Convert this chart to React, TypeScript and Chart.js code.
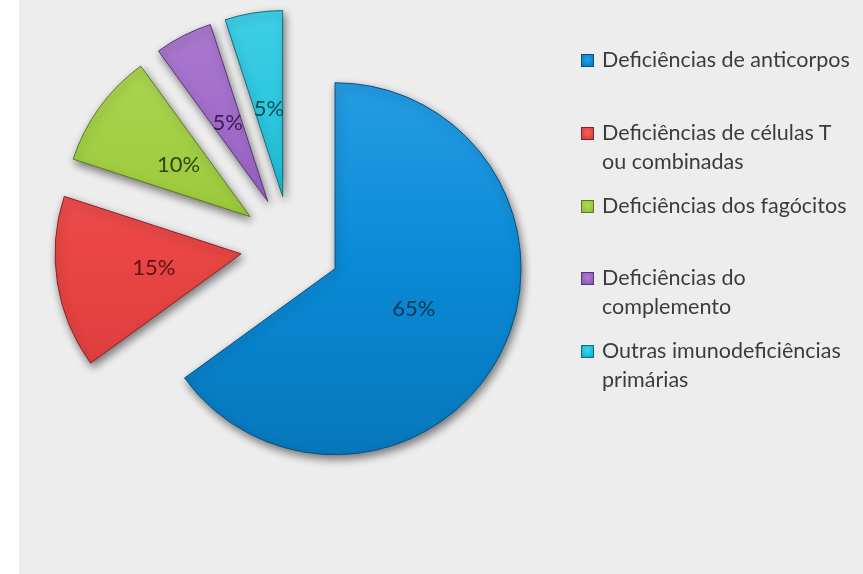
import React, { useEffect, useRef } from "react";
import { Chart, registerables, ArcElement } from "chart.js";

Chart.register(...registerables);

const categories: string[][] = [
  ["Deficiências de anticorpos"],
  ["Deficiências de células T", "ou combinadas"],
  ["Deficiências dos fagócitos"],
  ["Deficiências do", "complemento"],
  ["Outras imunodeficiências", "primárias"],
];
const values = [65, 15, 10, 5, 5];
const sliceColors = ["#0a8ad6", "#e94645", "#9cca3c", "#9a63c4", "#1ec0d8"];
const sliceLight = ["#2aa0e6", "#f06462", "#b0d95a", "#ae7fd2", "#45d3e8"];
const sliceDark = ["#0674b8", "#d43a39", "#88b52e", "#8553ad", "#14a5bd"];
const borderColors = ["#0a4f7c", "#8a2322", "#5b7a20", "#5a3578", "#0f6e7e"];
const labelColors = ["#0c3656", "#5e1212", "#2e4510", "#3b1a58", "#0c4d58"];

const EXPLODE = 50;
const FONT = "Lato, 'Open Sans', sans-serif";

export default function App() {
  const ref = useRef<HTMLCanvasElement | null>(null);

  useEffect(() => {
    if (!ref.current) return;

    const explodePlugin = {
      id: "explode",
      afterDatasetUpdate(chart: any) {
        const meta = chart.getDatasetMeta(0);
        meta.data.forEach((el: any) => {
          if (el.__patched) return;
          el.__patched = true;
          el.draw = function (ctx: CanvasRenderingContext2D) {
            const mid = (this.startAngle + this.endAngle) / 2;
            ctx.save();
            ctx.translate(Math.cos(mid) * EXPLODE, Math.sin(mid) * EXPLODE);
            ctx.shadowColor = "rgba(0,0,0,0.5)";
            ctx.shadowBlur = 8;
            ctx.shadowOffsetX = 2;
            ctx.shadowOffsetY = 4;
            ArcElement.prototype.draw.call(this, ctx);
            ctx.restore();
          };
        });
      },
    };

    const labelPlugin = {
      id: "sliceLabels",
      afterDatasetsDraw(chart: any) {
        const ctx = chart.ctx as CanvasRenderingContext2D;
        const meta = chart.getDatasetMeta(0);
        ctx.save();
        ctx.font = `22px ${FONT}`;
        ctx.textAlign = "center";
        ctx.textBaseline = "middle";
        meta.data.forEach((el: any, i: number) => {
          const { x, y, startAngle, endAngle, outerRadius } = el.getProps(
            ["x", "y", "startAngle", "endAngle", "outerRadius"],
            true
          );
          const mid = (startAngle + endAngle) / 2;
          const d = EXPLODE + 0.475 * outerRadius;
          ctx.fillStyle = labelColors[i];
          ctx.fillText(values[i] + "%", x + Math.cos(mid) * d, y + Math.sin(mid) * d);
        });
        ctx.restore();
      },
    };

    const chart = new Chart(ref.current, {
      type: "pie",
      data: {
        labels: categories,
        datasets: [
          {
            data: values,
            backgroundColor: (c: any) => {
              const i = c.dataIndex;
              const g = c.chart.ctx.createLinearGradient(0, 20, 0, 460);
              g.addColorStop(0, sliceLight[i]);
              g.addColorStop(0.5, sliceColors[i]);
              g.addColorStop(1, sliceDark[i]);
              return g;
            },
            borderColor: borderColors,
            borderWidth: 1,
            clip: false,
          } as any,
        ],
      },
      options: {
        responsive: false,
        animation: false,
        events: [],
        radius: 186,
        layout: { padding: { left: 0, right: 282, top: 0, bottom: 82 } },
        plugins: {
          legend: { display: false },
          tooltip: { enabled: false },
        },
      } as any,
      plugins: [explodePlugin, labelPlugin],
    });
    return () => chart.destroy();
  }, []);

  const itemTops = [45, 118, 191, 263, 336];

  return (
    <div
      style={{
        position: "absolute",
        left: 0,
        top: 0,
        width: 863,
        height: 574,
        background: "#ffffff",
        overflow: "hidden",
      }}
    >
      <div
        style={{
          position: "absolute",
          left: 19,
          top: 0,
          right: 0,
          bottom: 0,
          background: "#ededed",
        }}
      />
      <canvas
        ref={ref}
        width={863}
        height={574}
        style={{ position: "absolute", left: 0, top: 0, width: 863, height: 574 }}
      />
      {categories.map((lines, i) => (
        <div
          key={i}
          style={{
            position: "absolute",
            left: 581,
            top: itemTops[i],
            fontFamily: FONT,
            fontSize: 21.5,
            lineHeight: "28.5px",
            color: "#3c3c3c",
            whiteSpace: "nowrap",
          }}
        >
          <div
            style={{
              position: "absolute",
              left: 0,
              top: 9,
              width: 11,
              height: 11,
              border: `1px solid ${borderColors[i]}`,
              background: `radial-gradient(circle at 50% 40%, ${sliceLight[i]}, ${sliceColors[i]} 60%, ${sliceDark[i]})`,
            }}
          />
          <div style={{ marginLeft: 21 }}>
            {lines.map((l, j) => (
              <div key={j}>{l}</div>
            ))}
          </div>
        </div>
      ))}
    </div>
  );
}
